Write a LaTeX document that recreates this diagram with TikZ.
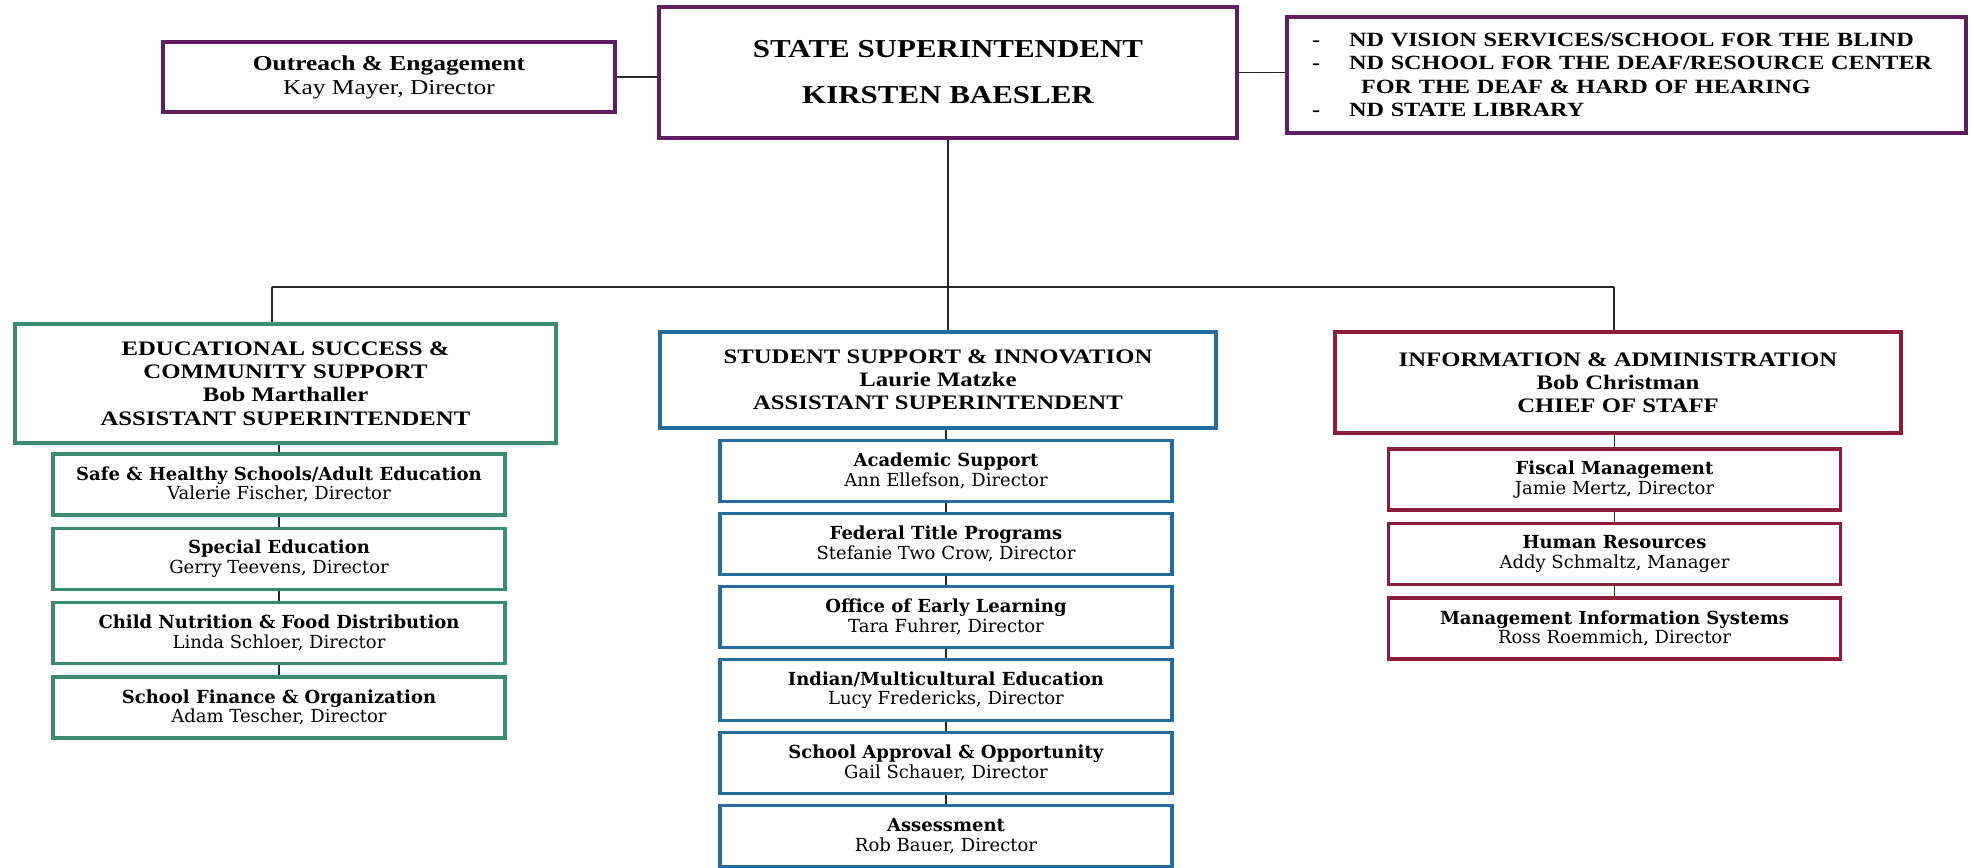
\documentclass[tikz,border=0pt]{standalone}
\usepackage{fontspec}
\setmainfont{Liberation Serif}[FakeStretch=1.2]
\newfontfamily\subfont{DejaVu Serif}
\usepackage{xcolor}
\usetikzlibrary{positioning}

\definecolor{deppurple}{RGB}{94,30,96}
\definecolor{depgreen}{RGB}{58,140,112}
\definecolor{depblue}{RGB}{36,108,160}
\definecolor{depred}{RGB}{140,28,58}

\begin{document}
\begin{tikzpicture}[x=0.5pt,y=-0.5pt,node distance=37.15pt,on grid,
        box/.style={draw,line width=1.6pt,fill=white,align=center,inner sep=0pt},
        headbox/.style={box,font=\fontsize{10.3}{11.6}\selectfont\bfseries},
        unitbox/.style={box,minimum width=226pt,minimum height=30.5pt,font=\subfont\fontsize{9}{9.8}\selectfont},
        link/.style={line width=0.8pt,black!85}]

            \fill[white] (0,0) rectangle (1974,867);
            \useasboundingbox (0,0) rectangle (1974,867);

            % top row
            \node (0) at (948,72.5) [box,draw=deppurple,minimum width=289pt,minimum height=65.5pt,
                font=\fontsize{12.9}{23}\selectfont\bfseries]
                {
                    STATE SUPERINTENDENT\\
                    KIRSTEN BAESLER
                };
            \node (1) at (389,77) [box,draw=deppurple,minimum width=226pt,minimum height=35pt,
                font=\fontsize{10.6}{12}\selectfont]
                {
                    \textbf{Outreach \& Engagement}\\
                    Kay Mayer, Director
                };
            \node (2) at (1626.5,75) [box,draw=deppurple,minimum width=339.5pt,minimum height=58pt,
                align=left,text width=314.5pt,inner xsep=12.5pt,
                font=\fontsize{10.1}{11.6}\selectfont\bfseries]
                {
                    \hyphenpenalty=10000
                    \makebox[18.5pt][l]{-}ND VISION SERVICES/SCHOOL FOR THE BLIND\\
                    \makebox[18.5pt][l]{-}ND SCHOOL FOR THE DEAF/RESOURCE CENTER\\
                    \hspace*{24.5pt}FOR THE DEAF \& HARD OF HEARING\\
                    \makebox[18.5pt][l]{-}ND STATE LIBRARY
                };

            % divisions
            \node (3) at (285.5,383.5) [headbox,draw=depgreen,minimum width=270.5pt,minimum height=59.5pt]
                {
                    EDUCATIONAL SUCCESS \&\\
                    COMMUNITY SUPPORT\\
                    Bob Marthaller\\
                    ASSISTANT SUPERINTENDENT
                };
            \node (4) at (938,380) [headbox,draw=depblue,minimum width=278pt,minimum height=48pt]
                {
                    STUDENT SUPPORT \& INNOVATION\\
                    Laurie Matzke\\
                    ASSISTANT SUPERINTENDENT
                };
            \node (5) at (1618,382.5) [headbox,draw=depred,minimum width=283pt,minimum height=50.5pt]
                {
                    INFORMATION \& ADMINISTRATION\\
                    Bob Christman\\
                    CHIEF OF STAFF
                };

            % offices under each division
            \node (6) at (279,484.5) [unitbox,draw=depgreen]
                {\textbf{Safe \& Healthy Schools/Adult Education}\\ Valerie Fischer, Director};
            \node (7) [below of=6,unitbox,draw=depgreen]
                {\textbf{Special Education}\\ Gerry Teevens, Director};
            \node (8) [below of=7,unitbox,draw=depgreen]
                {\textbf{Child Nutrition \& Food Distribution}\\ Linda Schloer, Director};
            \node (9) [below of=8,unitbox,draw=depgreen]
                {\textbf{School Finance \& Organization}\\ Adam Tescher, Director};

            \node (10) at (946,471) [unitbox,draw=depblue]
                {\textbf{Academic Support}\\ Ann Ellefson, Director};
            \node (11) [below of=10,node distance=36.5pt,unitbox,draw=depblue]
                {\textbf{Federal Title Programs}\\ Stefanie Two Crow, Director};
            \node (12) [below of=11,node distance=36.5pt,unitbox,draw=depblue]
                {\textbf{Office of Early Learning}\\ Tara Fuhrer, Director};
            \node (13) [below of=12,node distance=36.5pt,unitbox,draw=depblue]
                {\textbf{Indian/Multicultural Education}\\ Lucy Fredericks, Director};
            \node (14) [below of=13,node distance=36.5pt,unitbox,draw=depblue]
                {\textbf{School Approval \& Opportunity}\\ Gail Schauer, Director};
            \node (15) [below of=14,node distance=36.5pt,unitbox,draw=depblue]
                {\textbf{Assessment}\\ Rob Bauer, Director};

            \node (16) at (1614.5,479.5) [unitbox,draw=depred]
                {\textbf{Fiscal Management}\\ Jamie Mertz, Director};
            \node (17) [below of=16,node distance=37.25pt,unitbox,draw=depred]
                {\textbf{Human Resources}\\ Addy Schmaltz, Manager};
            \node (18) [below of=17,node distance=37.25pt,unitbox,draw=depred]
                {\textbf{Management Information Systems}\\ Ross Roemmich, Director};

            \coordinate (busl) at (272,287);
            \coordinate (busr) at (1614,287);

            \draw[link] (1.east) -- (1.east -| 0.west);
            \draw[link] (0.east) -- (0.east -| 2.west);
            \draw[link] (0.south) -- (0.south |- busl);
            \draw[link] (busl) -- (busr);
            \draw[link] (busl) -- (busl |- 3.north);
            \draw[link] (0.south |- busl) -- (0.south |- 4.north);
            \draw[link] (busr) -- (busr |- 5.north);
            \foreach \a/\b in {3/6,6/7,7/8,8/9,4/10,10/11,11/12,12/13,13/14,14/15,5/16,16/17,17/18}
                \draw[link] (\a.south -| \b.center) -- (\b.north);

        \end{tikzpicture}
\end{document}
